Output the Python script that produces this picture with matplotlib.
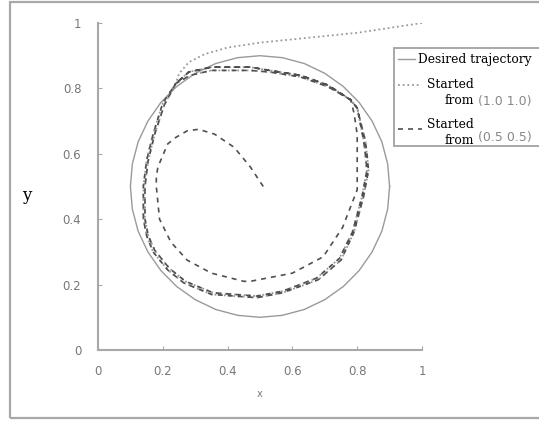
import matplotlib
matplotlib.use("Agg")
import matplotlib.pyplot as plt
from matplotlib.lines import Line2D
from matplotlib.patches import Rectangle

# desired trajectory (circle)
desired_x = [0.90, 0.894, 0.876, 0.846, 0.806, 0.757, 0.70, 0.637, 0.569, 0.50, 0.431, 0.363,
             0.30, 0.243, 0.194, 0.154, 0.124, 0.106, 0.10, 0.106, 0.124, 0.154, 0.194, 0.243,
             0.30, 0.363, 0.431, 0.50, 0.569, 0.637, 0.70, 0.757, 0.806, 0.846, 0.876, 0.894, 0.90]
desired_y = [0.50, 0.569, 0.637, 0.70, 0.757, 0.806, 0.846, 0.876, 0.894, 0.90, 0.894, 0.876,
             0.846, 0.806, 0.757, 0.70, 0.637, 0.569, 0.50, 0.431, 0.363, 0.30, 0.243, 0.194,
             0.154, 0.124, 0.106, 0.10, 0.106, 0.124, 0.154, 0.194, 0.243, 0.30, 0.363, 0.431, 0.50]

# limit cycle both runs end on (counter-clockwise from top-left corner)
cycle_x = [0.24, 0.20, 0.17, 0.15, 0.14, 0.14, 0.15, 0.17, 0.215, 0.265, 0.35, 0.49, 0.57,
           0.68, 0.75, 0.79, 0.82, 0.835, 0.83, 0.825, 0.80, 0.78, 0.71, 0.625, 0.53, 0.47,
           0.35, 0.28, 0.24]
cycle_y = [0.815, 0.755, 0.66, 0.58, 0.50, 0.40, 0.35, 0.30, 0.245, 0.205, 0.17, 0.16, 0.175,
           0.215, 0.275, 0.36, 0.47, 0.55, 0.60, 0.64, 0.74, 0.765, 0.81, 0.84, 0.855, 0.865,
           0.865, 0.85, 0.815]
cycle2_x = [0.24, 0.205, 0.175, 0.155, 0.145, 0.145, 0.155, 0.175, 0.22, 0.27, 0.355, 0.49, 0.57,
            0.675, 0.745, 0.785, 0.815, 0.83, 0.825, 0.82, 0.80, 0.78, 0.71, 0.625, 0.53, 0.47,
            0.35, 0.285, 0.24]
cycle2_y = [0.815, 0.75, 0.66, 0.58, 0.50, 0.40, 0.35, 0.305, 0.25, 0.21, 0.175, 0.165, 0.18,
            0.22, 0.28, 0.36, 0.47, 0.55, 0.60, 0.64, 0.74, 0.765, 0.805, 0.835, 0.85, 0.855,
            0.855, 0.84, 0.815]

# started from (1.0, 1.0): approach along the top
start1_x = [1.0, 0.9, 0.8, 0.7, 0.6, 0.5, 0.4, 0.33, 0.28, 0.25]
start1_y = [1.0, 0.985, 0.97, 0.96, 0.95, 0.94, 0.925, 0.905, 0.88, 0.845]

# started from (0.5, 0.5): first inner loop
start2_x = [0.51, 0.47, 0.42, 0.36, 0.31, 0.275, 0.24, 0.215, 0.185, 0.18, 0.18, 0.19, 0.225,
            0.275, 0.35, 0.45, 0.47, 0.60, 0.695, 0.755, 0.80, 0.80, 0.80, 0.80, 0.79]
start2_y = [0.50, 0.56, 0.62, 0.66, 0.675, 0.67, 0.65, 0.63, 0.56, 0.53, 0.50, 0.40, 0.33,
            0.275, 0.235, 0.21, 0.21, 0.235, 0.285, 0.375, 0.49, 0.55, 0.60, 0.66, 0.725]

traj1_x = start1_x + cycle_x + cycle2_x[1:]
traj1_y = start1_y + cycle_y + cycle2_y[1:]
traj2_x = start2_x + cycle_x[21:] + cycle2_x[1:] + cycle_x[1:]
traj2_y = start2_y + cycle_y[21:] + cycle2_y[1:] + cycle_y[1:]

W, H = 539, 424
fig = plt.figure(figsize=(W / 100, H / 100), dpi=100)

def fx(px):
    return px / W

def fy(py):
    return 1 - py / H

# outer chart frame
fig.patches.append(Rectangle((fx(10), fy(418)), fx(600), fy(2) - fy(418), transform=fig.transFigure,
                             fill=False, edgecolor="#a8a8a8", linewidth=1.6, clip_on=False))

ax = fig.add_axes([fx(98), fy(350), fx(422) - fx(98), fy(23) - fy(350)])
ax.plot(desired_x, desired_y, color="#9a9a9a", linewidth=1.0, linestyle="-")
ax.plot(traj1_x, traj1_y, color="#999999", linewidth=1.3, linestyle=(0, (1, 1.6)))
ax.plot(traj2_x, traj2_y, color="#505050", linewidth=1.2, linestyle=(0, (3, 3)))

ax.set_xlim(0, 1)
ax.set_ylim(0, 1)
ticks = [0, 0.2, 0.4, 0.6, 0.8, 1]
labels = ["0", "0.2", "0.4", "0.6", "0.8", "1"]
ax.set_xticks(ticks)
ax.set_xticklabels(labels)
ax.set_yticks(ticks)
ax.set_yticklabels(labels)
for s in ["top", "right"]:
    ax.spines[s].set_visible(False)
for s in ["left", "bottom"]:
    ax.spines[s].set_color("#a8a8a8")
    ax.spines[s].set_linewidth(1.5)
ax.tick_params(direction="in", length=3, color="#a8a8a8", labelcolor="#777777", labelsize=8.5)
ax.tick_params(axis="x", pad=11)
ax.tick_params(axis="y", pad=12)

ax.set_xlabel("x", fontsize=7, color="#777777", labelpad=8)
fig.text(fx(27), fy(195), "y", fontsize=12, family="DejaVu Serif", ha="center", va="center")

# legend
fig.patches.append(Rectangle((fx(394), fy(146)), fx(200), fy(48) - fy(146), transform=fig.transFigure,
                             facecolor="white", edgecolor="#a8a8a8", linewidth=1.4, clip_on=False))
fig.lines.append(Line2D([fx(398), fx(415)], [fy(59), fy(59)], transform=fig.transFigure,
                        color="#9a9a9a", linewidth=1.0))
fig.lines.append(Line2D([fx(398), fx(420)], [fy(85), fy(85)], transform=fig.transFigure,
                        color="#999999", linewidth=1.3, linestyle=(0, (1, 1.6))))
fig.lines.append(Line2D([fx(398), fx(422)], [fy(129), fy(129)], transform=fig.transFigure,
                        color="#505050", linewidth=1.2, linestyle=(0, (3, 3))))
serif = dict(family="DejaVu Serif", fontsize=8.8, color="black")
fig.text(fx(418), fy(59), "Desired trajectory", ha="left", va="center", **serif)
fig.text(fx(474), fy(85), "Started", ha="right", va="center", **serif)
fig.text(fx(474), fy(101), "from", ha="right", va="center", **serif)
fig.text(fx(478), fy(101), "(1.0 1.0)", ha="left", va="center", fontsize=9, color="#888888")
fig.text(fx(474), fy(125), "Started", ha="right", va="center", **serif)
fig.text(fx(474), fy(140), "from", ha="right", va="center", **serif)
fig.text(fx(478), fy(138), "(0.5 0.5)", ha="left", va="center", fontsize=9, color="#888888")

fig.savefig("out.png", dpi=100)
